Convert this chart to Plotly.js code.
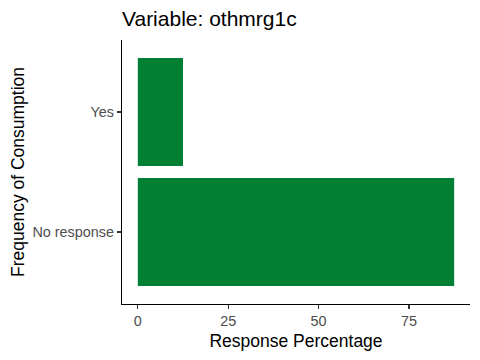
<!DOCTYPE html>
<html>
<head>
<meta charset="utf-8">
<script src="https://cdn.plot.ly/plotly-3.0.1.min.js"></script>
<style>html,body{margin:0;padding:0;background:#fff;}#chart{width:480px;height:360px;}</style>
</head>
<body>
<div id="chart"></div>
<script>
const categories = ["No response", "Yes"];
const percentages = [87.5, 12.5];
const xTickValues = [0, 25, 50, 75];
const xTickLabels = ["0", "25", "50", "75"];
const titleText = "Variable: othmrg1c";
const xTitle = "Response Percentage";
const yTitle = "Frequency of Consumption";

const maxVal = Math.max(...percentages);
const pad = maxVal * 0.05;

const data = [{
  type: "bar",
  orientation: "h",
  x: percentages,
  y: categories,
  marker: {color: "#017F33"},
  hoverinfo: "none"
}];

const font = "Liberation Sans, Arial, sans-serif";
const layout = {
  width: 480, height: 360,
  margin: {l: 122, r: 10, t: 40, b: 56},
  paper_bgcolor: "#fff", plot_bgcolor: "#fff",
  bargap: 0.1,
  showlegend: false,
  title: {
    text: titleText,
    x: 0, xref: "paper", xanchor: "left",
    y: 1 - 19/360, yref: "container", yanchor: "middle",
    font: {family: font, size: 21, color: "#000"}
  },
  xaxis: {
    range: [-pad, maxVal + pad],
    tickvals: xTickValues, ticktext: xTickLabels,
    showgrid: false, zeroline: false,
    showline: true, linecolor: "#000", linewidth: 1.1,
    ticks: "outside", ticklen: 4, tickcolor: "#333", tickwidth: 1.1,
    tickfont: {family: font, size: 14.4, color: "#4d4d4d"},
    title: {text: xTitle, font: {family: font, size: 17.5, color: "#000"}, standoff: 6}
  },
  yaxis: {
    type: "category",
    categoryorder: "array", categoryarray: categories,
    range: [-0.6, 1.6],
    showgrid: false, zeroline: false,
    showline: true, linecolor: "#000", linewidth: 1.1,
    ticks: "outside", ticklen: 4, tickcolor: "#333", tickwidth: 1.1,
    tickfont: {family: font, size: 14.4, color: "#4d4d4d"},
    title: {text: yTitle, font: {family: font, size: 17.5, color: "#000"}, standoff: 3}
  }
};

Plotly.newPlot("chart", data, layout, {displayModeBar: false, staticPlot: true});
</script>
</body>
</html>
